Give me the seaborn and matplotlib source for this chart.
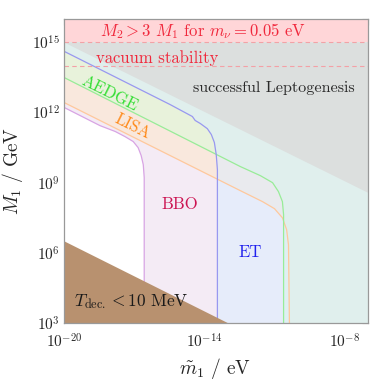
import matplotlib
matplotlib.use('Agg')
import matplotlib.pyplot as plt
import numpy as np
import seaborn as sns
from matplotlib.ticker import FixedLocator, FuncFormatter

# boundaries, as log10(m1 / eV) and log10(M1 / GeV)
BBO_LOG_MT = [-20, -18.46, -17.81, -17.39, -17.04, -16.83, -16.70, -16.61, -16.57, -16.57]
BBO_LOG_M1 = [12.22, 11.44, 11.19, 10.97, 10.76, 10.50, 10.16, 9.77, 9.22, 3]

LISA_LOG_MT = [-20, -12.46, -11.51, -11.00, -10.66, -10.48, -10.40, -10.36]
LISA_LOG_M1 = [12.43, 8.66, 8.19, 7.89, 7.50, 6.99, 6.34, 3]

AEDGE_LOG_MT = [-20, -12.46, -11.60, -11.08, -10.83, -10.66, -10.61, -10.61]
AEDGE_LOG_M1 = [13.50, 9.69, 9.30, 9.00, 8.62, 8.19, 7.63, 3]

ET_LOG_MT = [-20, -15.46, -14.51, -14.39, -14.17, -13.87, -13.70, -13.57, -13.49, -13.44, -13.44]
ET_LOG_M1 = [14.62, 12.34, 11.83, 11.66, 11.53, 11.31, 11.06, 10.72, 10.20, 9.56, 3]

LEPTO_LOG_MT = [-20, -7]
LEPTO_LOG_M1 = [15, 8.57]

TDEC_LOG_MT = [-20, -13]
TDEC_LOG_M1 = [6.5, 3]

M2_LIMIT_LOG = 15
VACUUM_LOG = 14

X_LIM = (-20, -7)
Y_LIM = (3, 16)
X_LABELED = [-20, -14, -8]
Y_LABELED = [3, 6, 9, 12, 15]

sns.set_style("white")
plt.rcParams['font.family'] = 'serif'
plt.rcParams['font.serif'] = ['cmr10', 'DejaVu Serif']
plt.rcParams['mathtext.fontset'] = 'cm'
plt.rcParams['axes.unicode_minus'] = False

fig = plt.figure(figsize=(3.74, 3.82), dpi=100)
ax = fig.add_axes([64 / 374, 1 - 323 / 382, 304 / 374, 304 / 382])
ax.set_xscale('log')
ax.set_yscale('log')


def p(vals):
    return 10.0 ** np.asarray(vals, dtype=float)


def region(lx, ly, color, alpha):
    xs = list(lx) + [X_LIM[1], X_LIM[1], X_LIM[0]]
    ys = list(ly) + [Y_LIM[0], Y_LIM[1], Y_LIM[1]]
    ax.fill(p(xs), p(ys), color=color, alpha=alpha, lw=0, zorder=1)


region(BBO_LOG_MT, BBO_LOG_M1, '#f4ebf5', 1.0)
region(LISA_LOG_MT, LISA_LOG_M1, '#ffe7c7', 0.5)
region(AEDGE_LOG_MT, AEDGE_LOG_M1, '#d9fdda', 0.5)
region(ET_LOG_MT, ET_LOG_M1, '#daedff', 0.5)

curves = [(BBO_LOG_MT, BBO_LOG_M1, '#d8a4e4'),
          (LISA_LOG_MT, LISA_LOG_M1, '#ffc89c'),
          (AEDGE_LOG_MT, AEDGE_LOG_M1, '#98ec98'),
          (ET_LOG_MT, ET_LOG_M1, '#9898f0')]
for lx, ly, c in curves:
    sns.lineplot(x=p(lx), y=p(ly), sort=False, estimator=None, color=c,
                 lw=0.9, ax=ax, zorder=2)

# successful leptogenesis
ax.fill(p([LEPTO_LOG_MT[0], LEPTO_LOG_MT[1], LEPTO_LOG_MT[1]]),
        p([LEPTO_LOG_M1[0], LEPTO_LOG_M1[1], M2_LIMIT_LOG]),
        color='#dcdfde', lw=0, zorder=3)
# M2 > 3 M1 band
ax.fill_between(p(X_LIM), p([M2_LIMIT_LOG] * 2), p([Y_LIM[1]] * 2),
                color='#ffd6d8', lw=0, zorder=3)
ax.axhline(10.0 ** M2_LIMIT_LOG, color='#f2a2a6', lw=0.8, ls=(0, (4, 3)), zorder=4)
ax.axhline(10.0 ** VACUUM_LOG, color='#f4a0a6', lw=0.8, ls=(0, (4, 3)), zorder=4)

# T_dec < 10 MeV
ax.fill(p([TDEC_LOG_MT[0], TDEC_LOG_MT[1], TDEC_LOG_MT[0]]),
        p([TDEC_LOG_M1[0], TDEC_LOG_M1[1], TDEC_LOG_M1[1]]),
        color='#b8916f', lw=0, zorder=5)

ax.set_xlim(p(X_LIM))
ax.set_ylim(p(Y_LIM))

fs = 12
ax.text(10 ** -14.04, 10 ** 15.47, r'$M_2 > 3\ M_1$ for $m_\nu = 0.05$ eV',
        color='#f0283c', fontsize=fs, ha='center', va='center', zorder=6)
ax.text(10 ** -16.01, 10 ** 14.33, 'vacuum stability', color='#f0283c',
        fontsize=fs, ha='center', va='center', zorder=6)
ax.text(10 ** -11.04, 10 ** 13.03, 'successful Leptogenesis', color='#2a2a2a',
        fontsize=11.6, ha='center', va='center', zorder=6)
ax.text(10 ** -18.03, 10 ** 12.82, 'AEDGE', color='#33dd33', fontsize=fs,
        rotation=-26.6, ha='center', va='center', zorder=6)
ax.text(10 ** -17.09, 10 ** 11.40, 'LISA', color='#ff8a1a', fontsize=fs,
        rotation=-26.6, ha='center', va='center', zorder=6)
ax.text(10 ** -15.03, 10 ** 8.06, 'BBO', color='#cc1452', fontsize=fs,
        ha='center', va='center', zorder=6)
ax.text(10 ** -12.03, 10 ** 6.04, 'ET', color='#2020ee', fontsize=fs,
        ha='center', va='center', zorder=6)
ax.text(10 ** -19.57, 10 ** 3.9, r'$T_{\rm dec.} < 10\ \mathrm{MeV}$',
        color='#1a1a1a', fontsize=12.5, ha='left', va='center', zorder=6)

ax.xaxis.set_major_locator(FixedLocator(p(range(X_LIM[0], X_LIM[1] + 1))))
ax.yaxis.set_major_locator(FixedLocator(p(range(Y_LIM[0], Y_LIM[1] + 1))))
ax.xaxis.set_minor_locator(FixedLocator([]))
ax.yaxis.set_minor_locator(FixedLocator([]))


def fmt(labeled):
    def f(v, pos):
        e = int(round(np.log10(v)))
        return r'$10^{%d}$' % e if e in labeled else ''
    return FuncFormatter(f)


ax.xaxis.set_major_formatter(fmt(X_LABELED))
ax.yaxis.set_major_formatter(fmt(Y_LABELED))
ax.tick_params(which='both', direction='in', top=True, right=True,
               length=4, width=0.8, color='#999999', labelsize=11)
ax.tick_params(axis='x', pad=7)
ax.tick_params(axis='y', pad=3)
for s in ax.spines.values():
    s.set_color('#999999')
    s.set_linewidth(0.9)
    s.set_zorder(7)

ax.set_xlabel(r'$\tilde{m}_1\ /\ \mathrm{eV}$', fontsize=14)
ax.set_ylabel(r'$M_1\ /\ \mathrm{GeV}$', fontsize=14)
ax.xaxis.set_label_coords(0.497, -0.11)
ax.yaxis.set_label_coords(-0.128, 0.50)

fig.savefig('out.png', dpi=100)
